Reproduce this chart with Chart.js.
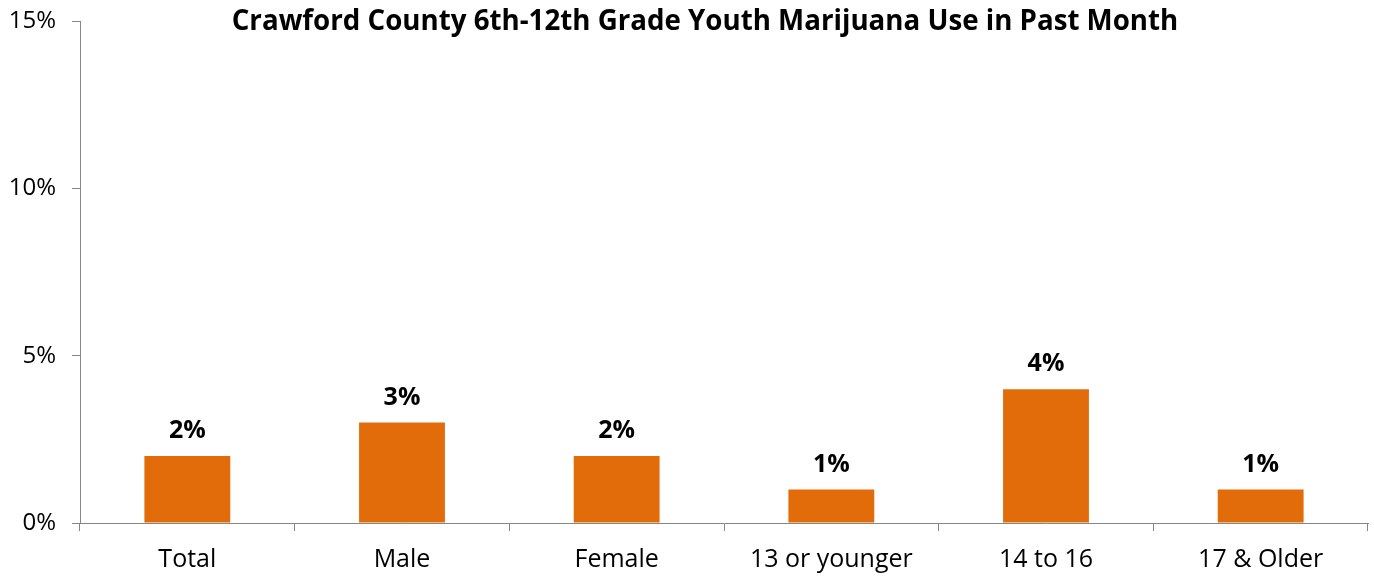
<!DOCTYPE html>
<html>
<head>
<meta charset="utf-8">
<style>
  html, body { margin: 0; padding: 0; background: #ffffff; }
  #wrap { width: 1374px; height: 576px; position: relative; }
</style>
<script src="https://cdn.jsdelivr.net/npm/chart.js@4/dist/chart.umd.min.js"></script>
</head>
<body>
<div id="wrap"><canvas id="chart" width="1374" height="576"></canvas></div>
<script>
// Youth marijuana use in past month, by group (percent)
const categories = ['Total', 'Male', 'Female', '13 or younger', '14 to 16', '17 & Older'];
const usePercent = [2, 3, 2, 1, 4, 1];
const yTicks = [0, 5, 10, 15];
const chartTitle = 'Crawford County 6th-12th Grade Youth Marijuana Use in Past Month';

const FONT = '"Open Sans", "Noto Sans", sans-serif';
const AXIS_COLOR = '#868686';
const BAR_COLOR = '#E36C0A';

// Value labels above each bar
const valueLabels = {
  id: 'valueLabels',
  afterDatasetsDraw(chart) {
    const ctx = chart.ctx;
    const meta = chart.getDatasetMeta(0);
    ctx.save();
    ctx.font = 'bold 25px ' + FONT;
    ctx.fillStyle = '#000000';
    ctx.textAlign = 'center';
    ctx.textBaseline = 'middle';
    meta.data.forEach((bar, i) => {
      ctx.fillText(usePercent[i] + '%', bar.x, bar.y - 25);
    });
    ctx.restore();
  }
};

// Title drawn inside the top of the plot
const topTitle = {
  id: 'topTitle',
  afterDraw(chart) {
    const ctx = chart.ctx;
    ctx.save();
    ctx.font = 'bold 27.7px ' + FONT;
    ctx.fillStyle = '#000000';
    ctx.textAlign = 'center';
    ctx.textBaseline = 'middle';
    ctx.fillText(chartTitle, 705, 22);
    ctx.restore();
  }
};

new Chart(document.getElementById('chart'), {
  type: 'bar',
  data: {
    labels: categories,
    datasets: [{
      data: usePercent,
      backgroundColor: BAR_COLOR,
      borderWidth: 0,
      categoryPercentage: 1.0,
      barPercentage: 0.4
    }]
  },
  options: {
    responsive: false,
    animation: false,
    layout: { padding: { top: 21, right: 6, bottom: 0, left: 0 } },
    plugins: {
      legend: { display: false },
      title: { display: false },
      tooltip: { enabled: false }
    },
    scales: {
      x: {
        offset: true,
        grid: {
          offset: true,
          drawOnChartArea: false,
          drawTicks: true,
          tickLength: 8,
          color: AXIS_COLOR,
          lineWidth: 1
        },
        border: { display: true, color: AXIS_COLOR, width: 1 },
        ticks: {
          font: { family: FONT, size: 25 },
          color: '#000000',
          padding: 14,
          maxRotation: 0,
          autoSkip: false
        },
        afterFit(scale) {
          scale.height = 53;
          scale.paddingLeft = 0;
          scale.paddingRight = 0;
        }
      },
      y: {
        min: 0,
        max: 15,
        afterBuildTicks(scale) {
          scale.ticks = yTicks.map(v => ({ value: v }));
        },
        grid: {
          drawOnChartArea: false,
          drawTicks: true,
          tickLength: 8,
          color: AXIS_COLOR,
          lineWidth: 1
        },
        border: { display: true, color: AXIS_COLOR, width: 1 },
        ticks: {
          font: { family: FONT, size: 24 },
          color: '#000000',
          padding: 16,
          callback: v => v + '%'
        },
        afterFit(scale) {
          scale.width = 80;
          scale.paddingTop = 0;
          scale.paddingBottom = 0;
        }
      }
    }
  },
  plugins: [valueLabels, topTitle]
});
</script>
</body>
</html>
